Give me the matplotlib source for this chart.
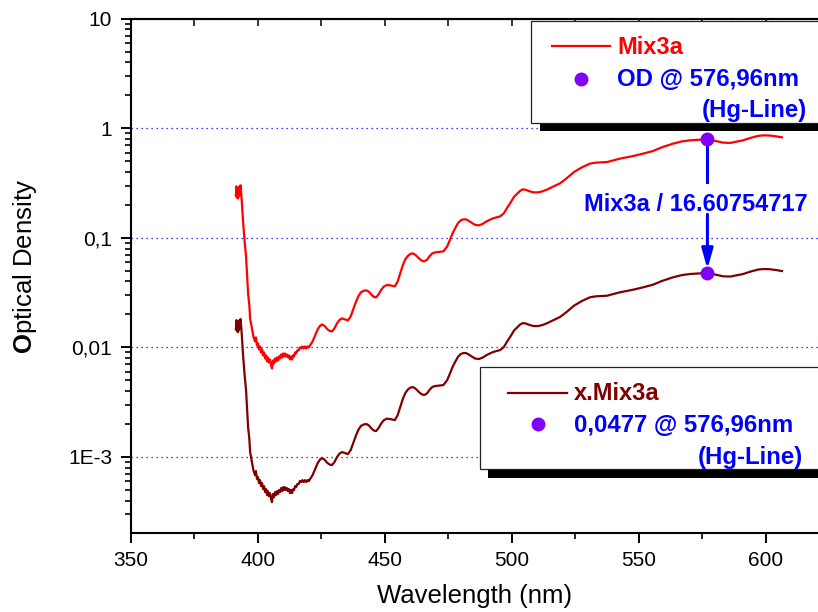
import matplotlib
matplotlib.use("Agg")
import matplotlib.pyplot as plt
from matplotlib import font_manager
from matplotlib.patches import Rectangle
from matplotlib.lines import Line2D
from matplotlib.ticker import FixedLocator, FixedFormatter, MultipleLocator, LogLocator, NullFormatter
import numpy as np

# ---------------- data ----------------
wavelength_nm = [391.3, 391.5, 391.7, 391.9, 392.1, 392.3, 392.5, 392.7, 392.9, 393.1, 393.3, 393.6,
                 394.1, 394.7, 395.3, 396.1, 396.6, 396.9,
                 397.6, 398.2, 398.8, 399.2, 399.6,
                 400.0, 400.4, 400.8, 401.2, 401.6, 402.0, 402.4, 402.8, 403.2, 403.6, 403.9, 404.3, 404.7, 405.1, 405.5,
                 405.9, 406.3, 406.7, 407.1, 407.5, 407.9, 408.3, 408.7, 409.1, 409.5, 409.9, 410.2,
                 410.6, 411.0, 411.4, 411.8, 412.2, 412.6, 413.0, 413.4, 413.8, 414.2, 414.6, 415.0,
                 415.5, 416.0, 416.5, 417.0, 417.5, 418.0, 418.5, 419.0, 419.5, 420.0, 420.5,
                 421.5, 422.5, 423.5, 424.4, 425.2, 426.2, 427.2, 428.2, 429.1,
                 430.1, 431.1, 432.1, 433.1, 434.2, 435.4, 436.5, 437.5, 438.5, 439.5,
                 440.5, 441.5, 442.7, 443.7, 444.7, 445.6, 446.5, 447.5, 448.5, 449.6,
                 450.8, 452.2, 453.9, 455.0, 456.0, 457.0, 458.0, 459.0, 460.0, 461.0,
                 462.0, 463.2, 464.3, 465.4, 466.5, 467.5, 468.6, 469.7, 471.3, 473.0,
                 474.5, 475.5, 476.6, 477.6, 478.7, 479.8, 480.9, 481.9, 483.0, 484.2,
                 485.5, 487.0, 488.5, 490.0, 492.5, 495.3, 496.8, 498.2, 499.5, 500.8,
                 502.0, 503.2, 504.3, 505.5, 507.0, 508.5, 510.2, 512.0, 514.0, 516.0,
                 518.9, 521.5, 524.4, 527.5, 530.7, 533.0, 535.0, 537.4, 540.0, 542.5,
                 545.0, 548.0, 551.6, 555.5, 559.0, 563.4, 567.0, 570.1, 573.0, 576.96,
                 580.0, 583.1, 586.0, 589.0, 591.0, 594.0, 597.0, 599.0, 601.5, 604.0, 606.3]

mix3a_od = [0.244, 0.295, 0.234, 0.283, 0.229, 0.277, 0.239, 0.295, 0.250, 0.302, 0.272, 0.220,
            0.1445, 0.0949, 0.0678, 0.0311, 0.0242, 0.0184,
            0.0149, 0.0126, 0.01134, 0.01234, 0.01043,
            0.01088, 0.00959, 0.01021, 0.00900, 0.00959, 0.00845, 0.00900, 0.00793, 0.00845, 0.00745, 0.00810,
            0.00729, 0.00777, 0.00699, 0.00643,
            0.00761, 0.00714, 0.00793, 0.00745, 0.00810, 0.00761, 0.00828, 0.00793, 0.00863, 0.00810, 0.00881, 0.00828,
            0.00881, 0.00828, 0.00863, 0.00810, 0.00845, 0.00777, 0.00828, 0.00777, 0.00845, 0.00828, 0.00900, 0.00881,
            0.00939, 0.00939, 0.01000, 0.00979, 0.01021, 0.00979, 0.01021, 0.00979, 0.01021, 0.01000, 0.01043,
            0.01134, 0.01287, 0.01460, 0.01571, 0.01622, 0.01571, 0.01475, 0.01415, 0.01400,
            0.01491, 0.01656, 0.01784, 0.01841, 0.01803, 0.01765, 0.01920, 0.02226, 0.02579, 0.02928,
            0.03183, 0.03285, 0.0332, 0.03216, 0.03022, 0.02897, 0.02861, 0.03054, 0.03355, 0.03603,
            0.03719, 0.0368, 0.03603, 0.04005, 0.04746, 0.0561, 0.06363, 0.06848, 0.07142, 0.07218,
            0.06993, 0.06565, 0.0623, 0.0610, 0.0630, 0.0678, 0.0722, 0.0737, 0.0745, 0.0753,
            0.0836, 0.0949, 0.1099, 0.1221, 0.1357, 0.1445, 0.1476, 0.1476, 0.1430, 0.1371,
            0.1315, 0.1301, 0.1343, 0.1415, 0.1507, 0.1572, 0.1674, 0.1898, 0.2109, 0.2368,
            0.2522, 0.2687, 0.2773, 0.2743, 0.2659, 0.2603, 0.2603, 0.2659, 0.2773, 0.2923,
            0.3145, 0.3495, 0.3990, 0.4404, 0.4761, 0.4862, 0.4893, 0.4924, 0.5103, 0.5289,
            0.5434, 0.5608, 0.5874, 0.6205, 0.6706, 0.7250, 0.7607, 0.7772, 0.7854, 0.792,
            0.7690, 0.7405, 0.7368, 0.7607, 0.7772, 0.8190, 0.8541, 0.8632, 0.8595, 0.8450, 0.8276]

scale_factor = 16.60754717          # "Mix3a / 16.60754717"
hg_line_nm = 576.96
hg_mix3a_od = 0.792
hg_xmix3a_od = 0.0477

x_mix3a_od = np.array(mix3a_od) / scale_factor

ytick_values = [1e-3, 1e-2, 1e-1, 1, 10]
ytick_labels = ["1E-3", "0,01", "0,1", "1", "10"]
xtick_values = [350, 400, 450, 500, 550, 600]

# ---------------- styling ----------------
W, H = 818, 612
names = {f.name for f in font_manager.fontManager.ttflist}
base_font = "Liberation Sans" if "Liberation Sans" in names else "DejaVu Sans"
plt.rcParams["font.family"] = [base_font, "DejaVu Sans"]
plt.rcParams["mathtext.fontset"] = "custom"
plt.rcParams["mathtext.rm"] = base_font
plt.rcParams["mathtext.bf"] = base_font + ":bold"

RED = "#FF0000"
DARKRED = "#800000"
BLUE = "#0000FF"
PURPLE = "#8000FF"

fig = plt.figure(figsize=(W / 100, H / 100), dpi=100)
ax = fig.add_axes([131 / W, 1 - 532.6 / H, 687 / W, (532.6 - 18.8) / H])

ax.set_yscale("log")
ax.set_xlim(350, 620.5)
ax.set_ylim(2.04e-4, 10)

ax.plot(wavelength_nm, mix3a_od, color=RED, lw=1.6, zorder=3)
ax.plot(wavelength_nm, x_mix3a_od, color=DARKRED, lw=1.6, zorder=3)

# grid
ax.yaxis.grid(True, which="major", color=BLUE, lw=0.9, linestyle=(0, (1, 3)))
ax.set_axisbelow(True)

# ticks
ax.xaxis.set_major_locator(FixedLocator(xtick_values))
ax.xaxis.set_minor_locator(MultipleLocator(25))
ax.yaxis.set_major_locator(FixedLocator(ytick_values))
ax.yaxis.set_major_formatter(FixedFormatter(ytick_labels))
ax.yaxis.set_minor_locator(LogLocator(base=10, subs=np.arange(2, 10), numticks=20))
ax.yaxis.set_minor_formatter(NullFormatter())
ax.tick_params(axis="both", which="major", direction="out", length=7.5, width=1.4,
               labelsize=15, pad=6)
ax.tick_params(axis="both", which="minor", direction="out", length=4.5, width=1.2)

for s in ["left", "bottom", "top"]:
    ax.spines[s].set_linewidth(1.5)
ax.spines["right"].set_visible(False)

sec = ax.secondary_xaxis("top")
sec.xaxis.set_major_locator(MultipleLocator(25))
sec.tick_params(direction="in", length=5, width=1.1, labeltop=False)
sec.spines["top"].set_linewidth(1.5)

ax.set_xlabel("Wavelength (nm)", fontsize=18.5, labelpad=10)
fig.text(25 / W, 1 - 266 / H, r"$\mathbf{O}$ptical Density", rotation=90,
         ha="center", va="center", fontsize=18.5)

# markers at Hg line
ax.plot([hg_line_nm], [hg_mix3a_od], "o", color=PURPLE, ms=9, zorder=6)
ax.plot([hg_line_nm], [hg_xmix3a_od], "o", color=PURPLE, ms=9, zorder=6)

# annotation arrow + text
ax.plot([hg_line_nm, hg_line_nm], [hg_mix3a_od, 0.321], color=BLUE, lw=2.2, zorder=5)
ax.annotate("", xy=(hg_line_nm, hg_xmix3a_od), xytext=(hg_line_nm, 0.164),
            arrowprops=dict(arrowstyle="-|>,head_length=0.6,head_width=0.17", lw=2.2,
                            color=BLUE, mutation_scale=20, shrinkA=0, shrinkB=3),
            zorder=5)
ax.text(572.4, 0.1764, "Mix3a / 16.60754717", color=BLUE, fontsize=17, fontweight="bold",
        ha="center", va="baseline", zorder=6)


# ---------------- legends (drawn in figure pixels) ----------------
def fx(px):
    return px / W


def fy(py):
    return 1 - py / H


def legend_box(left, top, bottom, sx, sy):
    right = W + 20
    shadow = Rectangle((fx(left + sx), fy(bottom + sy)), fx(right - left), (bottom - top) / H,
                       transform=fig.transFigure, facecolor="black", edgecolor="none", zorder=10)
    box = Rectangle((fx(left), fy(bottom)), fx(right - left), (bottom - top) / H,
                    transform=fig.transFigure, facecolor="white", edgecolor="#222222",
                    lw=0.9, zorder=11)
    fig.add_artist(shadow)
    fig.add_artist(box)


# Legend 1
legend_box(531, 21, 123, 9, 8)
fig.add_artist(Line2D([fx(552), fx(610)], [fy(45.5), fy(45.5)], color=RED, lw=1.6,
                      transform=fig.transFigure, zorder=12))
fig.text(fx(617), fy(54.3), "Mix3a", color=RED, fontsize=17, fontweight="bold",
         ha="left", va="baseline", zorder=12)
fig.add_artist(Line2D([fx(581)], [fy(78.5)], marker="o", color=PURPLE, ms=9,
                      transform=fig.transFigure, zorder=12))
fig.text(fx(617), fy(86.5), "OD @ 576,96nm", color=BLUE, fontsize=17.3, fontweight="bold",
         ha="left", va="baseline", zorder=12)
fig.text(fx(807), fy(117), "(Hg-Line)", color=BLUE, fontsize=17.3, fontweight="bold",
         ha="right", va="baseline", zorder=12)

# Legend 2
legend_box(480, 367, 469, 8, 9)
fig.add_artist(Line2D([fx(508), fx(567)], [fy(393), fy(393)], color=DARKRED, lw=1.6,
                      transform=fig.transFigure, zorder=12))
fig.text(fx(574), fy(400.5), "x.Mix3a", color=DARKRED, fontsize=17, fontweight="bold",
         ha="left", va="baseline", zorder=12)
fig.add_artist(Line2D([fx(538)], [fy(424)], marker="o", color=PURPLE, ms=9,
                      transform=fig.transFigure, zorder=12))
fig.text(fx(574), fy(432.5), "0,0477 @ 576,96nm", color=BLUE, fontsize=17.3, fontweight="bold",
         ha="left", va="baseline", zorder=12)
fig.text(fx(803), fy(464), "(Hg-Line)", color=BLUE, fontsize=17.3, fontweight="bold",
         ha="right", va="baseline", zorder=12)

fig.savefig("out.png", dpi=100)
